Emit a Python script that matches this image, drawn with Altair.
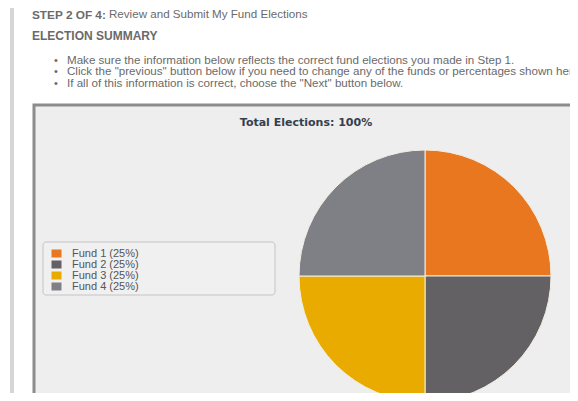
import altair as alt
import pandas as pd

# ---- data ----
funds = ["Fund 1", "Fund 2", "Fund 3", "Fund 4"]
percents = [25, 25, 25, 25]
fund_colors = ["#E8771F", "#646165", "#EAAB00", "#7E8085"]

header_bold = "STEP 2 OF 4:"
header_rest = "Review and Submit My Fund Elections"
section_title = "ELECTION SUMMARY"
bullets = [
    "Make sure the information below reflects the correct fund elections you made in Step 1.",
    "Click the \"previous\" button below if you need to change any of the funds or percentages shown here.",
    "If all of this information is correct, choose the \"Next\" button below.",
]
chart_title = "Total Elections: 100%"

labels = [f"{f} ({p}%)" for f, p in zip(funds, percents)]
df = pd.DataFrame({"fund": funds, "label": labels, "pct": percents})
one = pd.DataFrame({"k": [0]})

W, H = 562, 385
TXT = "#6a6a6a"
FONT = "Liberation Sans"


def txt(t, x, y, size=10, bold=False, color=TXT, align="left", font=FONT):
    return alt.Chart(one).mark_text(
        text=t, align=align, baseline="middle", fontSize=size,
        fontWeight="bold" if bold else "normal", color=color, font=font,
    ).encode(x=alt.value(x), y=alt.value(y))


# page left rule
left_rule = alt.Chart(one).mark_rule(color="#d6d6d6", strokeWidth=4).encode(
    x=alt.value(4), y=alt.value(0), y2=alt.value(H))

# chart box
box = alt.Chart(one).mark_rect(fill="#eeeeee", stroke="#8c8c8c", strokeWidth=3).encode(
    x=alt.value(26), x2=alt.value(575), y=alt.value(97), y2=alt.value(400))

legend_box = alt.Chart(one).mark_rect(
    fill="#f0f0f0", stroke="#c4c4c4", strokeWidth=1, cornerRadius=3).encode(
    x=alt.value(35), x2=alt.value(267), y=alt.value(234), y2=alt.value(287))

texts = [
    txt(header_bold, 24, 6.5, size=11.8, bold=True),
    txt(header_rest, 101, 6.5, size=11.6),
    txt(section_title, 24, 27.5, size=12, bold=True),
]
for i, b in enumerate(bullets):
    yy = 52.5 + i * 11.5
    texts.append(txt("\u2022", 46, yy, size=11))
    texts.append(txt(b, 59, yy, size=11.6))

title = txt(chart_title, 298, 115, size=11, bold=True, color="#34404d",
            align="center", font="DejaVu Sans")

pie = alt.Chart(df).mark_arc(
    outerRadius=126, stroke="#f3eee2", strokeWidth=1
).encode(
    theta=alt.Theta("pct:Q", stack=True),
    color=alt.Color(
        "label:N",
        scale=alt.Scale(domain=labels, range=fund_colors),
        legend=alt.Legend(
            title=None, orient="none", legendX=43, legendY=240,
            symbolType="M-1,-0.8H1V0.8H-1Z", symbolSize=100,
            symbolStrokeWidth=0, labelFont=FONT, labelFontSize=11,
            labelColor="#555555", labelOffset=10, rowPadding=-1,
            padding=0,
        ),
    ),
    order=alt.Order("fund:N"),
    x=alt.value(417), y=alt.value(268),
)

chart = alt.layer(left_rule, box, legend_box, *texts, title, pie).properties(
    width=W, height=H, padding=0, autosize=alt.AutoSizeParams(type="none"),
    background="white",
).configure_view(stroke=None)

chart.save("out.html", embed_options={"renderer": "svg", "actions": False})
